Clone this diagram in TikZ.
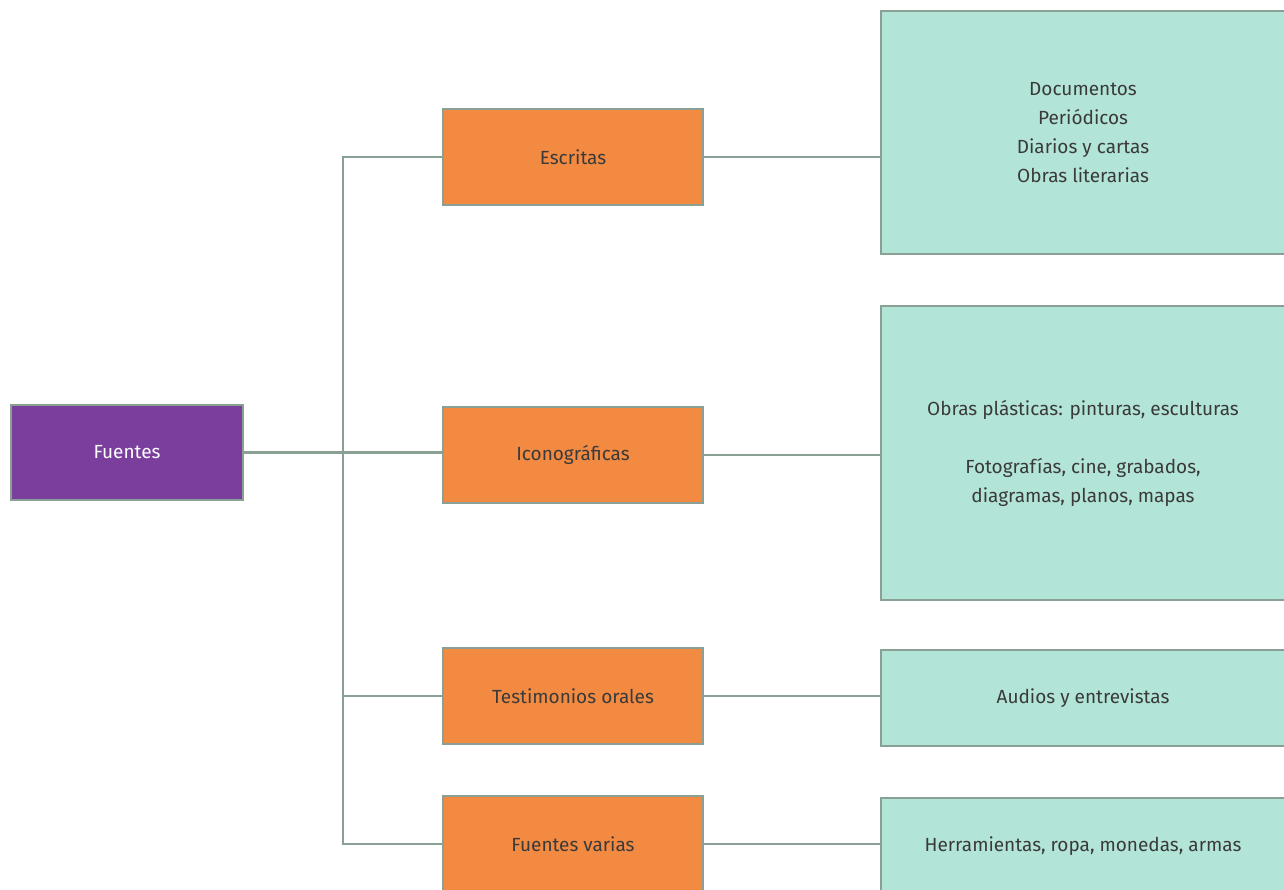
\documentclass[tikz,border=0pt]{standalone}
\usepackage{fontspec}
\setmainfont{Fira Sans}
\definecolor{fuentepurple}{HTML}{7A3E9D}
\definecolor{tipoorange}{HTML}{F38A42}
\definecolor{ejemploteal}{HTML}{B2E4D8}
\definecolor{bordegris}{HTML}{8AA095}
\definecolor{textogris}{HTML}{3A3A3A}
\tikzset{
	caja/.style={draw=bordegris, line width=2pt, anchor=north west, inner sep=0pt, align=center, text=textogris, font=\fontsize{19}{29}\selectfont},
	raiz/.style={caja, fill=fuentepurple, text=white, font=\fontsize{19}{29}\selectfont\mdseries, minimum width=232pt, minimum height=95pt},
	tipo/.style={caja, fill=tipoorange, minimum width=260pt, minimum height=96pt},
	ejemplo/.style={caja, fill=ejemploteal, minimum width=404pt},
	conn/.style={bordegris, line width=2.6pt}
}
\begin{document}
\begin{tikzpicture}[x=1pt,y=-1pt]
		
		\clip (0,0) rectangle (1284,890);
		\fill[white] (0,0) rectangle (1284,890);
		
		\node[raiz] (fuentes) at (10,404) {Fuentes};
		
		\node[tipo] (escritas) at (442,108) {Escritas};
		\node[tipo] (icono) at (442,406) {Iconográficas};
		\node[tipo] (orales) at (442,647) {Testimonios orales};
		\node[tipo] (varias) at (442,795) {Fuentes varias};
		
		\node[ejemplo, minimum height=243pt] (docs) at (880,10) {Documentos\\Periódicos\\Diarios y cartas\\Obras literarias};
		\node[ejemplo, minimum height=294pt] (plast) at (880,305) {Obras plásticas: pinturas, esculturas\\[29pt]Fotografías, cine, grabados,\\diagramas, planos, mapas};
		\node[ejemplo, minimum height=96pt] (audios) at (880,649) {Audios y entrevistas};
		\node[ejemplo, minimum height=96pt] (objetos) at (880,797) {Herramientas, ropa, monedas, armas};
		
		\coordinate (tronco) at (343,450);
		
		\draw[conn] (fuentes.east) -- (fuentes.east -| icono.west);
		\draw[conn] (escritas.west) -| (tronco) |- (varias.west);
		\draw[conn] (orales.west) -- (orales.west -| tronco);
		
		\draw[conn] (escritas.east) -- (docs.west |- escritas.east);
		\draw[conn] (icono.east) -- (plast.west |- icono.east);
		\draw[conn] (orales.east) -- (audios.west |- orales.east);
		\draw[conn] (varias.east) -- (objetos.west |- varias.east);
		
	\end{tikzpicture}
\end{document}
